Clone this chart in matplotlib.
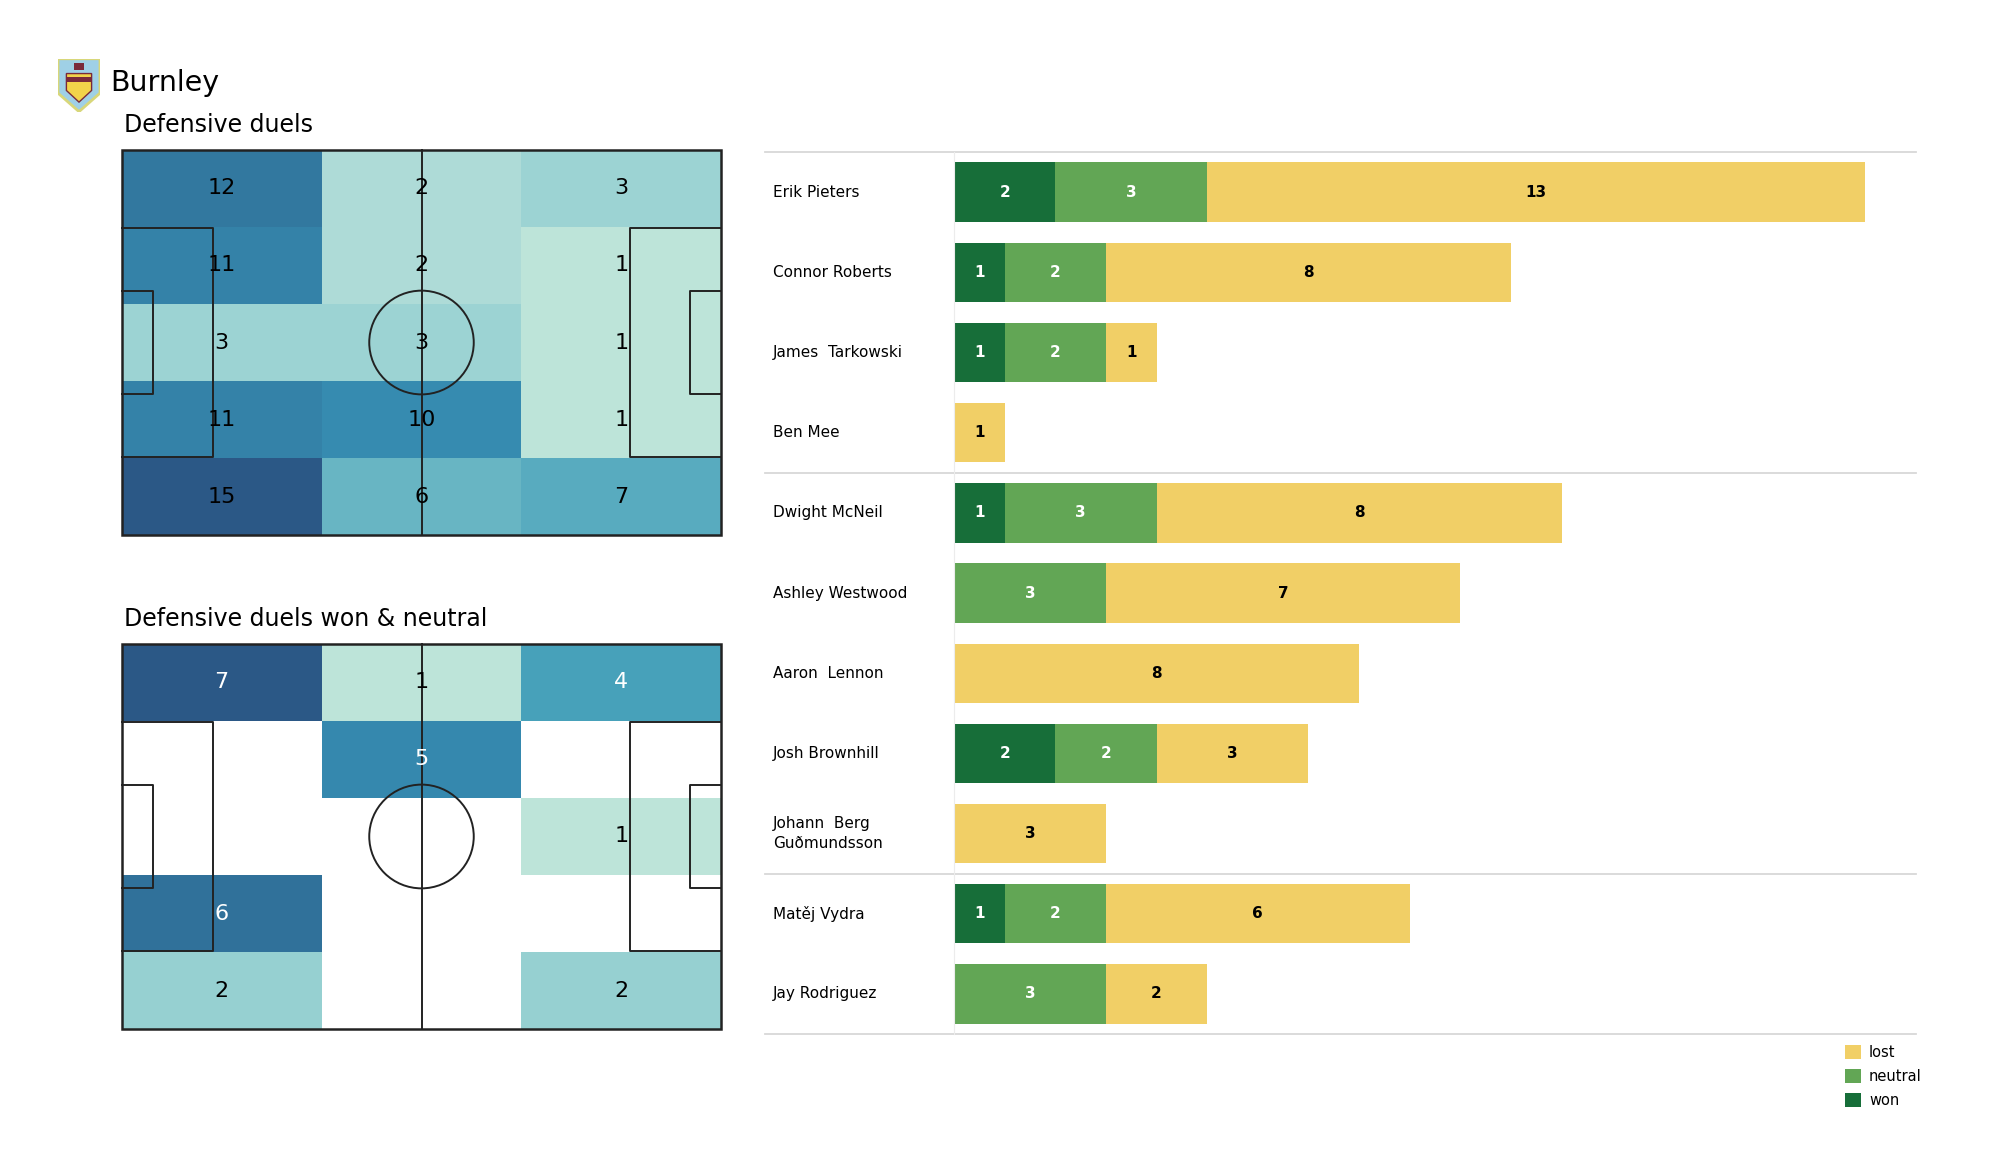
import matplotlib
matplotlib.use("Agg")
import matplotlib.pyplot as plt
import numpy as np
from matplotlib.colors import LinearSegmentedColormap
from matplotlib.patches import Rectangle, Circle, Polygon

# pitch grids, top row of the picture first (3 columns x 5 rows)
duels = [[12, 2, 3],
         [11, 2, 1],
         [3, 3, 1],
         [11, 10, 1],
         [15, 6, 7]]
duels_won_neutral = [[7, 1, 4],
                     [0, 5, 0],
                     [0, 0, 1],
                     [6, 0, 0],
                     [2, 0, 2]]

# players
players = ["Erik Pieters", "Connor Roberts", "James  Tarkowski", "Ben Mee",
           "Dwight McNeil", "Ashley Westwood", "Aaron  Lennon", "Josh Brownhill",
           "Johann  Berg\nGuðmundsson", "Matěj Vydra", "Jay Rodriguez"]
won = [2, 1, 1, 0, 1, 0, 0, 2, 0, 1, 0]
neutral = [3, 2, 2, 0, 3, 3, 0, 2, 0, 2, 3]
lost = [13, 8, 1, 1, 8, 7, 8, 3, 3, 6, 2]
group_breaks = [3.5, 8.5]  # defenders / midfielders / forwards

WON_C = "#176e39"
NEUTRAL_C = "#62a655"
LOST_C = "#f1cf66"
LINE_C = "#222222"

heat_cmap = LinearSegmentedColormap.from_list("heat", [
    (0.0, "#bde4d9"), (0.07, "#aedbd7"), (0.15, "#9ad2d2"), (0.36, "#67b5c3"),
    (0.5, "#47a1ba"), (0.65, "#358ab0"), (0.79, "#32789f"), (1.0, "#2b5886")])

L, W = 105.0, 68.0


def draw_pitch(ax):
    kw = dict(color=LINE_C, lw=1.4, zorder=3)
    ax.add_patch(Rectangle((0, 0), L, W, fill=False, ec=LINE_C, lw=1.8, zorder=3))
    ax.plot([L / 2, L / 2], [0, W], **kw)
    ax.add_patch(Circle((L / 2, W / 2), 9.15, fill=False, ec=LINE_C, lw=1.4, zorder=3))
    # boxes
    for x0, d in [(0, 1), (L, -1)]:
        ax.plot([x0, x0 + d * 16.0, x0 + d * 16.0, x0],
                [W / 2 - 20.16, W / 2 - 20.16, W / 2 + 20.16, W / 2 + 20.16], **kw)
        ax.plot([x0, x0 + d * 5.5, x0 + d * 5.5, x0],
                [W / 2 - 9.16, W / 2 - 9.16, W / 2 + 9.16, W / 2 + 9.16], **kw)
    ax.set_xlim(-0.3, L + 0.3)
    ax.set_ylim(W + 0.3, -0.3)
    ax.set_aspect("auto")
    ax.axis("off")


def draw_heat(ax, grid, white_from=None):
    grid = np.array(grid, dtype=float)
    nz = grid[grid > 0]
    xe = np.linspace(0, L, grid.shape[1] + 1)
    ye = np.linspace(0, W, grid.shape[0] + 1)
    ax.pcolormesh(xe, ye, np.ma.masked_equal(grid, 0), cmap=heat_cmap,
                  vmin=nz.min(), vmax=nz.max(), zorder=1)
    for r in range(grid.shape[0]):
        for c in range(grid.shape[1]):
            v = int(grid[r, c])
            if v == 0:
                continue
            col = "white" if (white_from is not None and v >= white_from) else "black"
            ax.text((xe[c] + xe[c + 1]) / 2, (ye[r] + ye[r + 1]) / 2, str(v),
                    ha="center", va="center", fontsize=16, color=col, zorder=4)
    draw_pitch(ax)


def draw_logo(ax):
    shield = [(0, 1), (1, 1), (1, 0.35), (0.5, 0), (0, 0.35)]
    ax.add_patch(Polygon(shield, closed=True, fc="#9fd0e6", ec="#d8d77a", lw=2))
    ax.add_patch(Polygon([(0.2, 0.72), (0.8, 0.72), (0.8, 0.4), (0.5, 0.18), (0.2, 0.4)],
                         closed=True, fc="#f2d34a", ec="#7a2a3a", lw=1))
    ax.add_patch(Rectangle((0.2, 0.56), 0.6, 0.1, fc="#7a2a3a", ec="none"))
    ax.add_patch(Rectangle((0.38, 0.78), 0.24, 0.14, fc="#7a2a3a", ec="none"))
    ax.set_xlim(0, 1)
    ax.set_ylim(0, 1)
    ax.axis("off")


def draw_bars(ax):
    y = np.arange(len(players))
    won_a = np.array(won)
    neu_a = np.array(neutral)
    lost_a = np.array(lost)
    h = 0.74
    ax.barh(y, won_a, height=h, color=WON_C, label="won")
    ax.barh(y, neu_a, left=won_a, height=h, color=NEUTRAL_C, label="neutral")
    ax.barh(y, lost_a, left=won_a + neu_a, height=h, color=LOST_C, label="lost")
    for i in range(len(players)):
        starts = [0, won_a[i], won_a[i] + neu_a[i]]
        for v, s, col in zip([won_a[i], neu_a[i], lost_a[i]], starts,
                             ["white", "white", "black"]):
            if v > 0:
                ax.text(s + v / 2, i, str(v), ha="center", va="center",
                        fontsize=11, fontweight="bold", color=col)
        ax.text(-0.188, i, players[i], transform=ax.get_yaxis_transform(),
                ha="left", va="center", fontsize=11, linespacing=1.35)
    ax.set_xlim(0, 19)
    ax.set_ylim(len(players) - 0.5, -0.5)
    for yy in [-0.5] + group_breaks + [len(players) - 0.5]:
        ax.plot([-0.196, 1], [yy, yy], transform=ax.get_yaxis_transform(),
                color="#d8d8d8", lw=1.3, clip_on=False)
    for s in ["top", "right", "bottom"]:
        ax.spines[s].set_visible(False)
    ax.spines["left"].set_color("#ececec")
    ax.set_xticks([])
    ax.set_yticks([])


def main():
    fig = plt.figure(figsize=(20, 11.75), dpi=100)

    logo_ax = fig.add_axes([0.029, 0.905, 0.021, 0.045])
    draw_logo(logo_ax)
    fig.text(0.055, 0.929, "Burnley", fontsize=20.5, va="center", ha="left")

    fig.text(0.062, 0.894, "Defensive duels", fontsize=17, va="center", ha="left")
    ax1 = fig.add_axes([0.06, 0.543, 0.3015, 0.331])
    draw_heat(ax1, duels)

    fig.text(0.062, 0.473, "Defensive duels won & neutral", fontsize=17,
             va="center", ha="left")
    ax2 = fig.add_axes([0.06, 0.1226, 0.3015, 0.331])
    draw_heat(ax2, duels_won_neutral, white_from=4)

    axb = fig.add_axes([0.477, 0.12, 0.481, 0.7506])
    draw_bars(axb)
    handles, labels = axb.get_legend_handles_labels()
    fig.legend(handles[::-1], labels[::-1], loc="upper left",
               bbox_to_anchor=(0.9188, 0.1165), frameon=False, fontsize=10.5,
               handlelength=1.1, handleheight=1.1, handletextpad=0.55,
               labelspacing=0.6, borderpad=0)

    fig.savefig("out.png", dpi=100, facecolor="white")


if __name__ == "__main__":
    main()
